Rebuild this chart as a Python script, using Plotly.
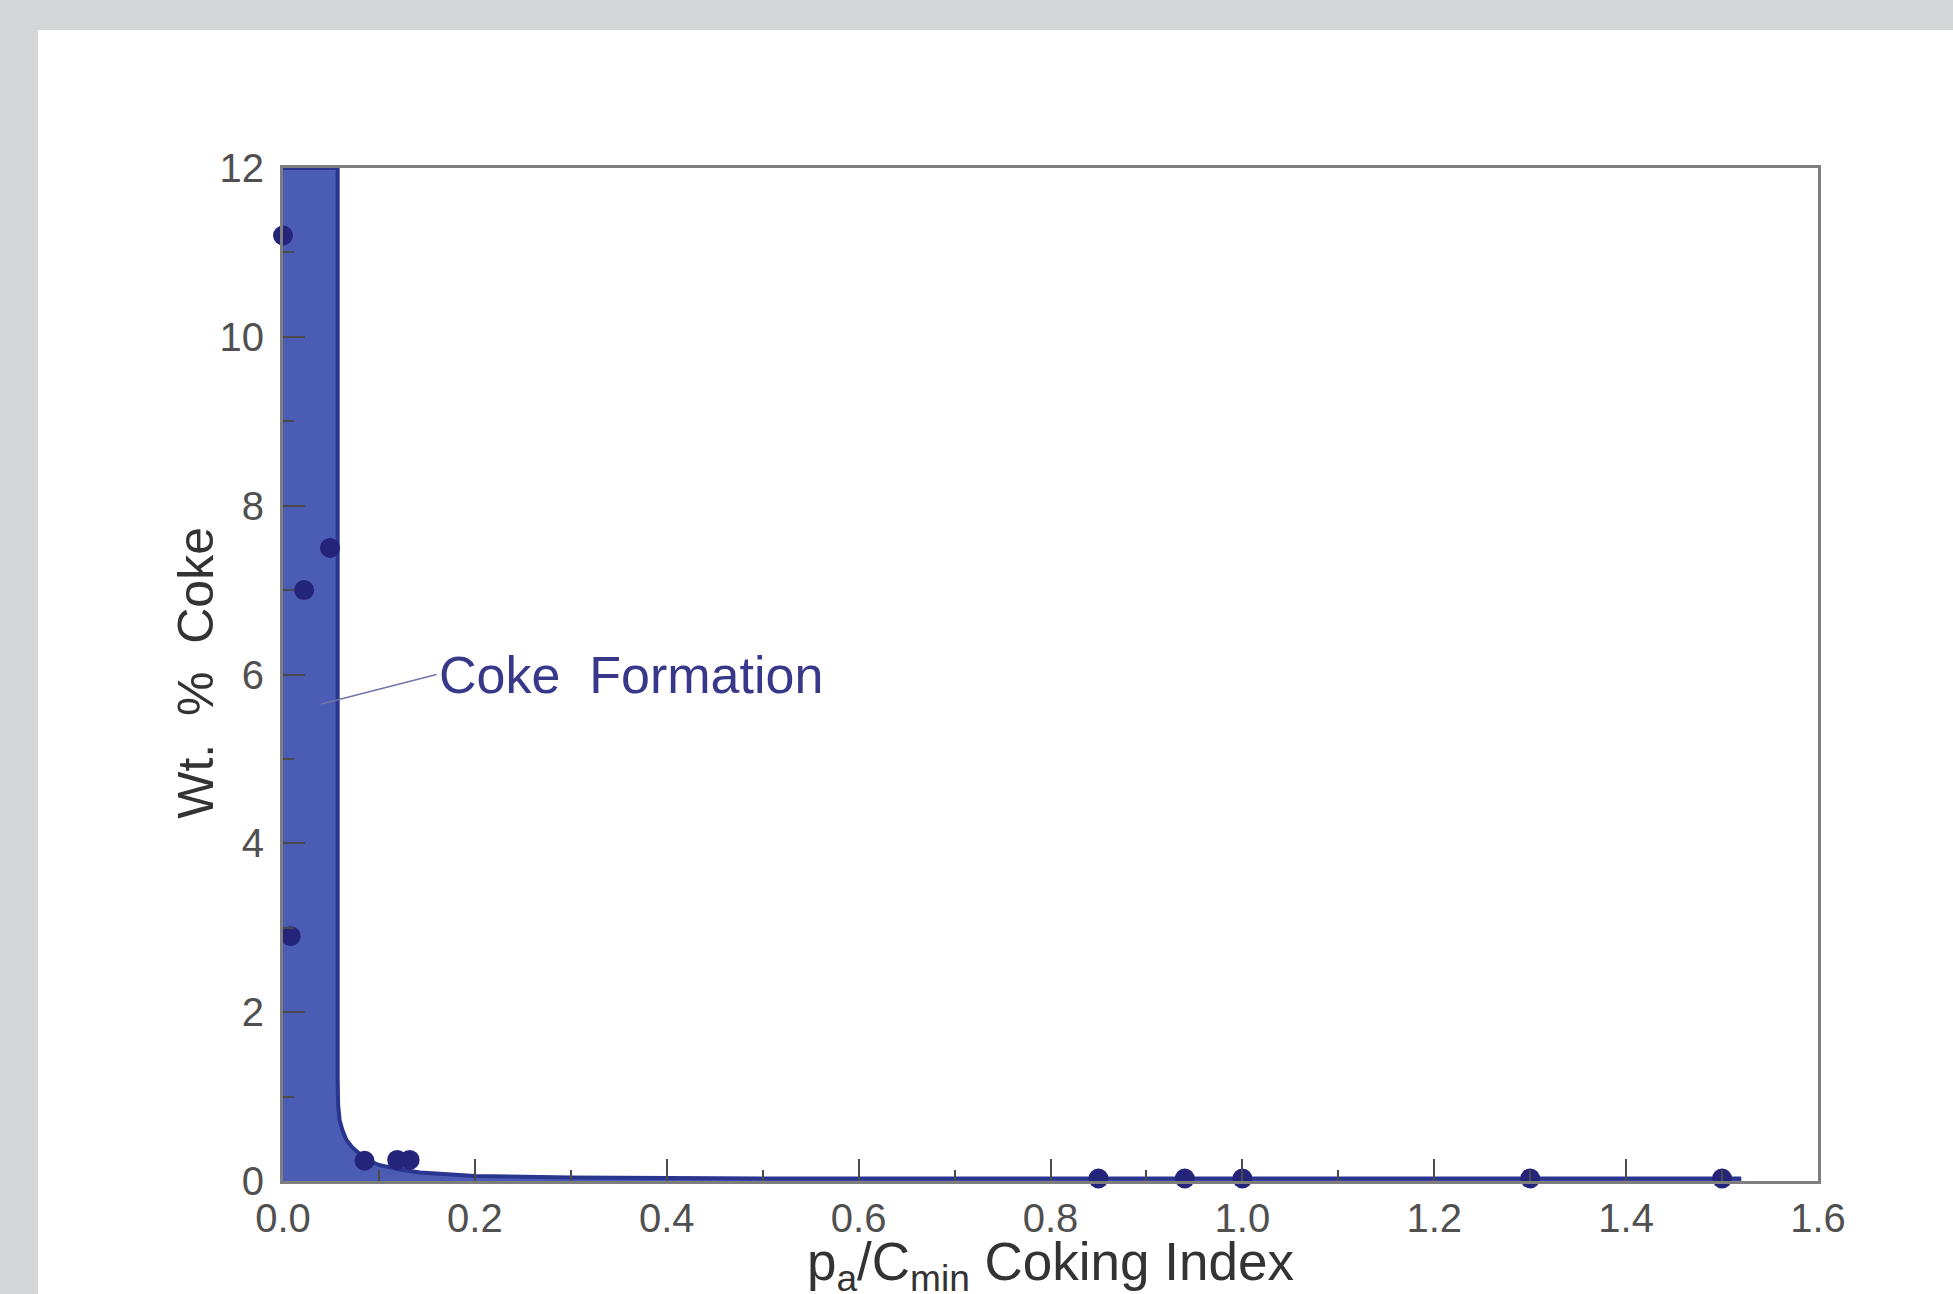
import plotly.graph_objects as go

# ---- data ----
curve_x = [0.0, 0.057, 0.057, 0.0575, 0.059, 0.062, 0.066, 0.072, 0.080, 0.090, 0.100, 0.120, 0.143, 0.200, 0.300, 0.500, 0.800, 1.000, 1.300, 1.520]
curve_y = [12.0, 12.0, 1.2, 0.9, 0.72, 0.60, 0.49, 0.40, 0.32, 0.24, 0.19, 0.14, 0.10, 0.06, 0.04, 0.03, 0.03, 0.03, 0.03, 0.03]

pts_x = [0.0, 0.008, 0.022, 0.049, 0.085, 0.119, 0.132, 0.85, 0.94, 1.0, 1.3, 1.5]
pts_y = [11.2, 2.9, 7.0, 7.5, 0.24, 0.25, 0.25, 0.03, 0.03, 0.03, 0.03, 0.03]

x_ticks = [0.0, 0.2, 0.4, 0.6, 0.8, 1.0, 1.2, 1.4, 1.6]
x_tick_labels = ["0.0", "0.2", "0.4", "0.6", "0.8", "1.0", "1.2", "1.4", "1.6"]
y_ticks = [0, 2, 4, 6, 8, 10, 12]
y_tick_labels = ["0", "2", "4", "6", "8", "10", "12"]

x_title = "p<sub>a</sub>/C<sub>min</sub> Coking Index"
y_title = "Wt.\u00a0 %\u00a0 Coke"

annot_text = "Coke\u00a0\u00a0Formation"
annot_point = (0.040, 5.65)
annot_text_pos = (0.160, 6.0)

FONT = "Liberation Sans, Arial, Helvetica, sans-serif"

fig = go.Figure()

fig.add_trace(go.Scatter(
    x=curve_x, y=curve_y, mode="lines", fill="tozeroy",
    fillcolor="#4a5cb3", line=dict(color="#2a3590", width=4),
    hoverinfo="skip", showlegend=False,
))

fig.add_trace(go.Scatter(
    x=pts_x, y=pts_y, mode="markers",
    marker=dict(color="#24247a", size=20, line=dict(width=0)),
    showlegend=False, cliponaxis=False,
))

fig.add_annotation(
    x=annot_point[0], y=annot_point[1],
    ax=annot_text_pos[0], ay=annot_text_pos[1], axref="x", ayref="y",
    text=annot_text, showarrow=True, arrowhead=0, arrowwidth=1.6,
    arrowcolor="#7474a8", xanchor="left", yanchor="middle",
    font=dict(family=FONT, size=52, color="#38388a"),
)

# axis titles placed as in the reference
fig.add_annotation(
    xref="paper", yref="paper", x=-0.0565, y=0.502,
    text=y_title, textangle=-90, showarrow=False,
    xanchor="center", yanchor="middle",
    font=dict(family=FONT, size=50, color="#333333"),
)
fig.add_annotation(
    xref="paper", yref="paper", x=0.5, y=-0.0835,
    text=x_title, showarrow=False,
    xanchor="center", yanchor="middle",
    font=dict(family=FONT, size=53, color="#333333"),
)

# gray frame of the picture (top band and left band)
fig.add_shape(type="rect", xref="paper", yref="paper",
              x0=-0.25, x1=1.2, y0=(1181 - 30) / 1013, y1=1.3,
              fillcolor="#d4d5d7", line=dict(width=0), layer="below")
fig.add_shape(type="rect", xref="paper", yref="paper",
              x0=-0.25, x1=(38 - 283) / 1535, y0=-0.3, y1=1.3,
              fillcolor="#d4d5d7", line=dict(width=0), layer="below")

axis_common = dict(
    showgrid=False, zeroline=False, showline=True, mirror=True,
    linecolor="#7e7e7e", linewidth=3, automargin=False,
    ticks="inside", ticklen=22, tickwidth=2, tickcolor="#4a4a4a",
    tickfont=dict(family=FONT, size=40, color="#505050"),
)

fig.update_xaxes(
    range=[0, 1.6], tickvals=x_ticks, ticktext=x_tick_labels,
    minor=dict(ticks="inside", ticklen=11, tickwidth=2, tickcolor="#4a4a4a", dtick=0.1, tick0=0),
    ticklabelstandoff=0,
    **axis_common,
)
fig.update_yaxes(
    range=[0, 12], tickvals=y_ticks, ticktext=y_tick_labels,
    minor=dict(ticks="inside", ticklen=11, tickwidth=2, tickcolor="#4a4a4a", dtick=1, tick0=0),
    ticklabelstandoff=8,
    **axis_common,
)

fig.update_layout(
    width=1953, height=1294,
    margin=dict(l=283, r=135, t=168, b=113),
    paper_bgcolor="#ffffff", plot_bgcolor="#ffffff",
    showlegend=False,
)

fig.write_html("out.html", config={"displayModeBar": False},
               post_script="document.body.style.margin='0px';document.body.style.padding='0px';")
